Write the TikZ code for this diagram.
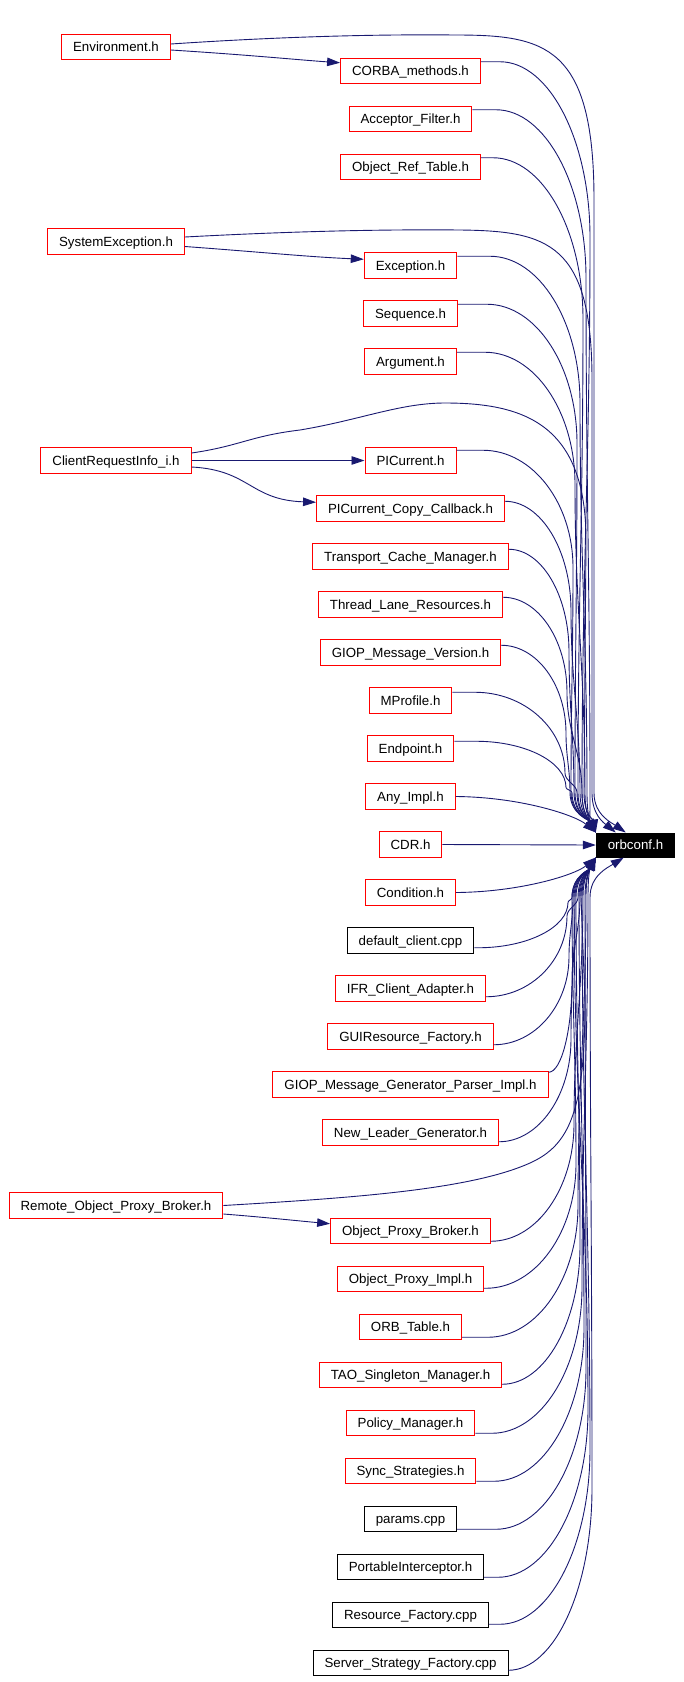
\documentclass[tikz,border=0pt]{standalone}
\usepackage{fontspec}
\setmainfont{Liberation Sans}
\usetikzlibrary{arrows.meta,calc}
\definecolor{edgeblue}{HTML}{191970}
\definecolor{boxred}{HTML}{FF0000}
\tikzset{
  file/.style={draw=boxred, line width=1pt, fill=white, inner xsep=11.5pt, inner ysep=0pt,
    minimum height=25.5pt, font=\fontsize{13.3}{15}\selectfont, text height=11pt, text depth=1.6pt},
  extfile/.style={file, draw=black},
  root/.style={file, draw=black, fill=black, text=white, minimum width=75pt, minimum height=24pt},
  edge/.style={draw=edgeblue, line width=0.9pt, -{Triangle[length=13pt,width=8.5pt]}},
}
% edge from a box above the root: start, column x, tip, last control dx, dy, end column x
\newcommand\edgeA[6]{%
  \draw[edge] let \p1=#1, \p2=#3,
    \n1={min(#2pt-\x1,90pt)},
    \n2={min(0.15*(\y1-\y2)+60pt,\y1-\y2-45pt)},
    \n3={\y1-\n2-\y2-40pt} in
    (\p1) -- ({#2pt-\n1},\y1)
    .. controls ({#2pt-0.45*\n1},\y1) and (#2pt,{\y1-0.45*\n2}) .. (#2pt,{\y1-\n2})
    .. controls (#2pt,{\y1-\n2-0.4*\n3}) and (#6pt,{\y2+40pt+0.4*\n3}) .. (#6pt,{\y2+40pt})
    .. controls (#6pt,{\y2+18pt}) and ({\x2-#4pt},{\y2+#5pt}) .. (\p2);}
% edge from a box below the root
\newcommand\edgeB[6]{%
  \draw[edge] let \p1=#1, \p2=#3,
    \n1={min(#2pt-\x1,90pt)},
    \n2={min(0.15*(\y2-\y1)+60pt,\y2-\y1-45pt)},
    \n3={\y2-\y1-\n2-40pt} in
    (\p1) -- ({#2pt-\n1},\y1)
    .. controls ({#2pt-0.45*\n1},\y1) and (#2pt,{\y1+0.45*\n2}) .. (#2pt,{\y1+\n2})
    .. controls (#2pt,{\y1+\n2+0.4*\n3}) and (#6pt,{\y2-40pt-0.4*\n3}) .. (#6pt,{\y2-40pt})
    .. controls (#6pt,{\y2-18pt}) and ({\x2-#4pt},{\y2-#5pt}) .. (\p2);}
\begin{document}
\begin{tikzpicture}[x=1pt,y=-1pt]
\useasboundingbox (0,0) rectangle (684,1682);
% left column
\node[file] (env)   at (116,47)    {Environment.h};
\node[file] (sysex) at (116,241.5) {SystemException.h};
\node[file] (cri)   at (116,460.5) {ClientRequestInfo\_i.h};
\node[file] (rem)   at (116,1205.5){Remote\_Object\_Proxy\_Broker.h};
% middle column
\node[file] (corba) at (410.5,71)    {CORBA\_methods.h};
\node[file] (accf)  at (410.5,119)   {Acceptor\_Filter.h};
\node[file] (ort)   at (410.5,167)   {Object\_Ref\_Table.h};
\node[file] (exc)   at (410.5,265.5) {Exception.h};
\node[file] (seq)   at (410.5,313.5) {Sequence.h};
\node[file] (arg)   at (410.5,361.5) {Argument.h};
\node[file] (pic)   at (410.5,460.5) {PICurrent.h};
\node[file] (picc)  at (410.5,508.5) {PICurrent\_Copy\_Callback.h};
\node[file] (tcm)   at (410.5,556.5) {Transport\_Cache\_Manager.h};
\node[file] (tlr)   at (410.5,604.5) {Thread\_Lane\_Resources.h};
\node[file] (gmv)   at (410.5,652.5) {GIOP\_Message\_Version.h};
\node[file] (mpr)   at (410.5,700.5) {MProfile.h};
\node[file] (endp)  at (410.5,748.5) {Endpoint.h};
\node[file] (anyi)  at (410.5,796.5) {Any\_Impl.h};
\node[file] (cdr)   at (410.5,844.5) {CDR.h};
\node[file] (cond)  at (410.5,892.5) {Condition.h};
\node[extfile] (dcl) at (410.5,940.5) {default\_client.cpp};
\node[file] (ifr)   at (410.5,988.5) {IFR\_Client\_Adapter.h};
\node[file] (gui)   at (410.5,1036.5){GUIResource\_Factory.h};
\node[file] (giopg) at (410.5,1084.5){GIOP\_Message\_Generator\_Parser\_Impl.h};
\node[file] (nlg)   at (410.5,1132.5){New\_Leader\_Generator.h};
\node[file] (opb)   at (410.5,1231)  {Object\_Proxy\_Broker.h};
\node[file] (opi)   at (410.5,1279)  {Object\_Proxy\_Impl.h};
\node[file] (orbt)  at (410.5,1327)  {ORB\_Table.h};
\node[file] (tao)   at (410.5,1375)  {TAO\_Singleton\_Manager.h};
\node[file] (pol)   at (410.5,1423)  {Policy\_Manager.h};
\node[file] (sync)  at (410.5,1471)  {Sync\_Strategies.h};
\node[extfile] (par)  at (410.5,1519) {params.cpp};
\node[extfile] (pint) at (410.5,1567) {PortableInterceptor.h};
\node[extfile] (rfac) at (410.5,1615) {Resource\_Factory.cpp};
\node[extfile] (ssf)  at (410.5,1663) {Server\_Strategy\_Factory.cpp};
% root
\node[root] (orb) at (635.5,845) {orbconf.h};
\coordinate (tA)  at (orb.north west);
\coordinate (tB)  at ([xshift=30pt]orb.north west);
\coordinate (tB2) at ([xshift=20pt]orb.north west);
\coordinate (bA)  at (orb.south west);
\coordinate (bB)  at ([xshift=28pt]orb.south west);
% left column edges
\draw[edge] ([yshift=3pt]env.east) .. controls (260,38) and (360,34) .. (455,35)
  .. controls (545,35) and (594,45) .. (594,200) -- (594,793)
  .. controls (594,815) and (612,823) .. (tB);
\draw[edge] ([yshift=-3pt]env.east) .. controls (250,55) and (300,60) .. ([yshift=-5pt]corba.north west);
\draw[edge] ([yshift=4.5pt]sysex.east) .. controls (260,233) and (360,229) .. (460,230)
  .. controls (548,231) and (592,243) .. (592,380) -- (592,793)
  .. controls (592,815) and (604,823) .. (tB2);
\draw[edge] ([yshift=-5pt]sysex.east) .. controls (260,252) and (310,257) .. ([yshift=-7pt]exc.north west);
\draw[edge] ([yshift=7.5pt]cri.east) .. controls (240,446) and (250,436) .. (300,430)
  .. controls (360,420) and (400,403) .. (445,403)
  .. controls (525,403) and (586,425) .. (586,540) -- (584,793)
  .. controls (584,815) and (594,821) .. (tA);
\draw[edge] (cri.east) -- (pic.west);
\draw[edge] ([yshift=-6.5pt]cri.east) .. controls (250,470) and (250,500) .. ([yshift=-7pt]picc.north west);
\draw[edge] (rem.east) .. controls (350,1198) and (470,1190) .. (530,1163)
  .. controls (570,1145) and (585,1110) .. (585,1000) -- (581,897)
  .. controls (581,875) and (592,867) .. (bA);
\draw[edge] ([yshift=-8.5pt]rem.east) .. controls (262,1217) and (300,1221) .. ([yshift=-6pt]opb.north west);
% middle column edges above the root
\edgeA{([yshift=-4pt]corba.north east)}{590}{(tA)}{6}{12}{582}
\edgeA{([yshift=-4pt]accf.north east)}{586}{(tA)}{6}{12}{590}
\edgeA{([yshift=-4pt]ort.north east)}{583}{(tA)}{6}{12}{578}
\edgeA{([yshift=-4pt]exc.north east)}{580}{(tA)}{6}{12}{587}
\edgeA{([yshift=-4pt]seq.north east)}{577}{(tA)}{6}{12}{575}
\edgeA{([yshift=-4pt]arg.north east)}{575}{(tA)}{6}{12}{585}
\edgeA{([yshift=-3pt]pic.north east)}{573}{(tA)}{6}{12}{571}
\edgeA{([yshift=-6pt]picc.north east)}{571}{(tA)}{6}{12}{580}
\edgeA{([yshift=-6pt]tcm.north east)}{569}{(tA)}{6}{12}{574}
\edgeA{([yshift=-6pt]tlr.north east)}{567}{(tA)}{6}{12}{582}
\edgeA{([yshift=-6pt]gmv.north east)}{566}{(tA)}{6}{12}{570}
\edgeA{([yshift=-5pt]mpr.north east)}{565}{(tA)}{6}{12}{577}
\edgeA{([yshift=-6pt]endp.north east)}{566}{(tA)}{6}{12}{572}
\draw[edge] (anyi.east) .. controls (520,797) and (575,815) .. (tA);
\draw[edge] (cdr.east) -- (orb.west);
% middle column edges below the root
\draw[edge] (cond.east) .. controls (520,892) and (575,875) .. (bA);
\edgeB{([yshift=6pt]dcl.south east)}{568}{(bA)}{6}{12}{572}
\edgeB{([yshift=5pt]ifr.south east)}{567}{(bA)}{6}{12}{578}
\edgeB{([yshift=5pt]gui.south east)}{569}{(bA)}{6}{12}{573}
\edgeB{([yshift=-1pt]giopg.north east)}{572}{(bA)}{6}{12}{580}
\edgeB{([yshift=4pt]nlg.south east)}{571}{(bA)}{6}{12}{575}
\edgeB{([yshift=3pt]opb.south east)}{574}{(bA)}{6}{12}{583}
\edgeB{([yshift=4pt]opi.south east)}{576}{(bA)}{6}{12}{572}
\edgeB{([yshift=3pt]orbt.south east)}{578}{(bA)}{6}{12}{586}
\edgeB{([yshift=4pt]tao.south east)}{580}{(bA)}{6}{12}{576}
\edgeB{([yshift=3pt]pol.south east)}{582}{(bA)}{6}{12}{588}
\edgeB{([yshift=3pt]sync.south east)}{584}{(bA)}{6}{12}{579}
\edgeB{([yshift=3pt]par.south east)}{586}{(bA)}{6}{12}{585}
\edgeB{([yshift=3pt]pint.south east)}{588}{(bA)}{6}{12}{574}
\edgeB{([yshift=4pt]rfac.south east)}{590}{(bA)}{6}{12}{582}
\edgeB{([yshift=6pt]ssf.south east)}{592}{(bB)}{16}{10}{590}
\end{tikzpicture}
\end{document}
